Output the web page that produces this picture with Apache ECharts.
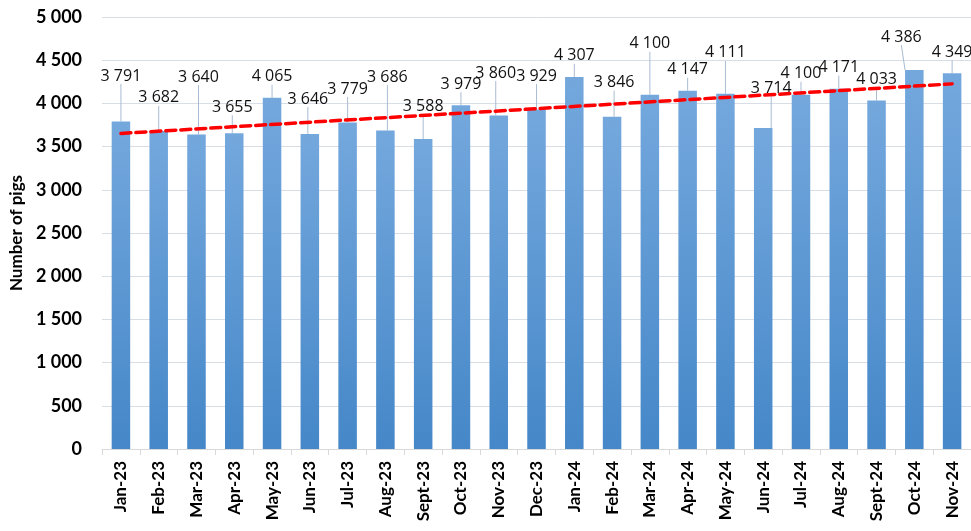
<!DOCTYPE html>
<html>
<head>
<meta charset="utf-8">
<script src="https://cdn.jsdelivr.net/npm/echarts@6/dist/echarts.min.js"></script>
<style>
  html, body { margin: 0; padding: 0; background: #fff; }
  #chart { width: 971px; height: 531px; }
</style>
</head>
<body>
<div id="chart"></div>
<script>
// ---- Data ----
const categories = ['Jan-23','Feb-23','Mar-23','Apr-23','May-23','Jun-23','Jul-23','Aug-23','Sept-23','Oct-23','Nov-23','Dec-23',
                    'Jan-24','Feb-24','Mar-24','Apr-24','May-24','Jun-24','Jul-24','Aug-24','Sept-24','Oct-24','Nov-24'];
const pigs = [3791, 3682, 3640, 3655, 4065, 3646, 3779, 3686, 3588, 3979, 3860, 3929,
              4307, 3846, 4100, 4147, 4111, 3714, 4100, 4171, 4033, 4386, 4349];
// Trend line end values (first and last month)
const trendEnds = [3652, 4226];
const yTicks = { min: 0, max: 5000, interval: 500 };

// ---- Layout: manual nudges of the data labels (pixels), as placed in the reference ----
const LABEL_NUDGE = {
  dx: [0, 0, 2, -2, 0, -2, 0, 2, 0, 0, -3, 0, 0, 2, 0, 0, 0, 8, 0, 0, 0, -13, 0],
  dy: [-24.5, -12, -36.5, -5, 0, -14, -12.5, -32.5, -12, 0, -21.5, -12.5, 0, -13, -30, 0, -20, -19, 0, 0, 0, -12, 0]
};

const FONT = 'Lato, "Open Sans", sans-serif';
const LABEL_FONT = '"Open Sans", Lato, sans-serif';
const fmt = v => String(v).replace(/\B(?=(\d{3})+(?!\d))/g, ' ');

const chart = echarts.init(document.getElementById('chart'), null, { renderer: 'canvas' });
chart.setOption({
  animation: false,
  backgroundColor: '#ffffff',
  textStyle: { fontFamily: FONT },
  grid: { left: 102, right: 0, top: 17, bottom: 82, containLabel: false },
  xAxis: {
    type: 'category',
    data: categories,
    boundaryGap: true,
    axisLine: { show: true, lineStyle: { color: '#d9d9d9', width: 1 } },
    axisTick: { show: true, length: 6, lineStyle: { color: '#d9d9d9' } },
    axisLabel: { rotate: 90, margin: 12, fontSize: 17, fontWeight: 'bold', color: '#000', fontFamily: FONT, interval: 0 },
    splitLine: { show: false }
  },
  yAxis: {
    type: 'value',
    min: yTicks.min, max: yTicks.max, interval: yTicks.interval,
    name: 'Number of pigs',
    nameLocation: 'middle',
    nameGap: 74,
    nameTextStyle: { fontSize: 17, fontWeight: 'bold', color: '#000', fontFamily: FONT },
    axisLine: { show: false },
    axisTick: { show: false },
    axisLabel: { fontSize: 18, fontWeight: 'bold', color: '#000', margin: 20, fontFamily: FONT, formatter: fmt },
    splitLine: { show: true, lineStyle: { color: '#d9dee6', width: 1 } }
  },
  series: [
    {
      name: 'Number of pigs',
      type: 'bar',
      data: pigs,
      barWidth: '49%',
      itemStyle: {
        color: new echarts.graphic.LinearGradient(0, 0, 0, 1, [
          { offset: 0, color: '#74a8dd' },
          { offset: 1, color: '#4587c8' }
        ])
      },
      label: {
        show: true,
        position: 'top',
        distance: 13,
        fontSize: 16,
        color: '#111',
        fontFamily: LABEL_FONT,
        formatter: p => fmt(p.value)
      },
      labelLine: { show: true, lineStyle: { color: '#a9bcd3', width: 1 } },
      labelLayout: function (params) {
        const i = params.dataIndex;
        const dx = LABEL_NUDGE.dx[i], dy = LABEL_NUDGE.dy[i];
        if (!dx && !dy) return {};
        return { dx: dx, dy: dy };
      },
      z: 2
    },
    {
      name: 'Trend',
      type: 'line',
      data: [[categories[0], trendEnds[0]], [categories[categories.length - 1], trendEnds[1]]],
      symbol: 'none',
      lineStyle: { color: '#ff0000', width: 3.5, type: [10, 5], cap: 'round' },
      z: 3
    }
  ]
});
</script>
</body>
</html>
